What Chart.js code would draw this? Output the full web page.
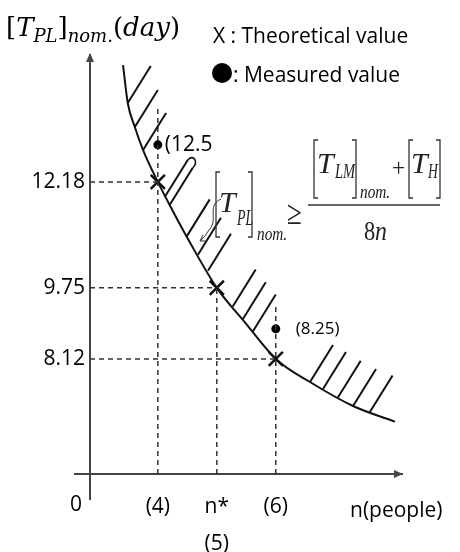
<!DOCTYPE html>
<html>
<head>
<meta charset="utf-8">
<script src="https://cdn.jsdelivr.net/npm/chart.js@4/dist/chart.umd.min.js"></script>
<style>
  body { margin: 0; background: #fff; }
  canvas { display: block; }
</style>
</head>
<body>
<canvas id="grafico" width="460" height="552"></canvas>
<script>
// ejes
var xTicks = [4, 5, 6];
var xTickLabels = ['(4)', ['n*', '(5)'], '(6)'];
var yTicks = [8.12, 9.75, 12.18];
var yTickLabels = ['8.12', '9.75', '12.18'];
var nMin = 2.85, nMax = 8.14, tMin = 5.48, tMax = 15.09;

// valores teoricos (X) y lineas guia
var theoN = [4, 5, 6];
var theoT = [12.18, 9.75, 8.12];
var guideTop = [13.9, 9.75, 9.36];

// valores medidos
var measN = [4, 6];
var measT = [13.03, 8.81];
var measLabels = ['(12.5', '(8.25)'];

// curva limite
var curveN = [3.41, 3.49, 3.61, 3.75, 4, 4.29, 4.54, 5, 5.47, 6, 6.58, 7.31, 8.02];
var curveT = [14.86, 13.99, 13.44, 12.91, 12.18, 11.42, 10.80, 9.75, 8.97, 8.12, 7.59, 7.04, 6.68];

// rayado (base de cada trazo sobre la curva)
var hatchN = [3.49, 3.61, 3.75, 4.12, 4.20, 4.49, 4.68, 4.85, 5.27, 5.44, 5.61, 6.58, 6.80, 7.05, 7.31, 7.59];
var hatchT = [13.99, 13.44, 12.91, 11.84, 11.65, 10.93, 10.51, 10.14, 9.32, 9.03, 8.75, 7.59, 7.43, 7.23, 7.04, 6.89];

var FONT = '"Open Sans", sans-serif';

function texto(c, s, x, y, font, sx) {
  sx = sx || 1;
  c.save();
  c.font = font;
  c.translate(x, y);
  c.scale(sx, 1);
  c.fillText(s, 0, 0);
  var w = c.measureText(s).width * sx;
  c.restore();
  return w;
}

function corchete(c, x, y1, y2, dir) {
  c.beginPath();
  c.moveTo(x + dir * 4, y1);
  c.lineTo(x, y1);
  c.lineTo(x, y2);
  c.lineTo(x + dir * 4, y2);
  c.stroke();
}

var decoraciones = {
  id: 'decoraciones',
  afterDraw: function (chart) {
    var c = chart.ctx, xs = chart.scales.x, ys = chart.scales.y, a = chart.chartArea;
    var i;
    c.save();

    // prolongacion de ejes y flechas
    c.strokeStyle = '#444';
    c.lineWidth = 2;
    c.beginPath();
    c.moveTo(a.left, a.bottom);
    c.lineTo(a.left, a.bottom + 26);
    c.moveTo(a.left - 16, a.bottom);
    c.lineTo(a.left, a.bottom);
    c.stroke();
    c.fillStyle = '#444';
    c.beginPath();
    c.moveTo(a.left, a.top - 2);
    c.lineTo(a.left - 4, a.top + 7);
    c.lineTo(a.left + 4, a.top + 7);
    c.closePath();
    c.fill();
    c.beginPath();
    c.moveTo(a.right + 1, a.bottom);
    c.lineTo(a.right - 8, a.bottom - 4);
    c.lineTo(a.right - 8, a.bottom + 4);
    c.closePath();
    c.fill();

    // rayado
    c.strokeStyle = '#111';
    c.lineWidth = 2;
    for (i = 0; i < hatchN.length; i++) {
      var px = xs.getPixelForValue(hatchN[i]), py = ys.getPixelForValue(hatchT[i]);
      c.beginPath();
      c.moveTo(px, py);
      c.lineTo(px + 23, py - 37);
      c.stroke();
    }
    // gancho entre los dos trazos junto a 12.18
    var h1x = xs.getPixelForValue(hatchN[3]) + 23, h1y = ys.getPixelForValue(hatchT[3]) - 37;
    var h2x = xs.getPixelForValue(hatchN[4]) + 23, h2y = ys.getPixelForValue(hatchT[4]) - 37;
    c.lineWidth = 1.6;
    c.beginPath();
    c.moveTo(h1x, h1y);
    c.bezierCurveTo(h1x + 6, h1y - 6, h2x + 6, h2y - 6, h2x, h2y);
    c.stroke();

    // flecha curva
    c.lineWidth = 1;
    c.strokeStyle = '#333';
    c.beginPath();
    c.moveTo(221, 199);
    c.bezierCurveTo(206, 206, 219, 220, 209, 230);
    c.quadraticCurveTo(205, 237, 200, 241);
    c.moveTo(200, 241);
    c.lineTo(207, 241);
    c.moveTo(200, 241);
    c.lineTo(203, 235);
    c.stroke();

    // etiquetas de valores medidos
    c.fillStyle = '#000';
    c.textAlign = 'left';
    c.textBaseline = 'middle';
    c.font = '21px ' + FONT;
    c.fillText(measLabels[0], xs.getPixelForValue(measN[0]) + 7, ys.getPixelForValue(measT[0]));
    c.font = '17px ' + FONT;
    c.fillText(measLabels[1], xs.getPixelForValue(measN[1]) + 20, ys.getPixelForValue(measT[1]));

    // origen y titulo eje x
    c.font = '21px ' + FONT;
    c.textBaseline = 'top';
    c.textAlign = 'center';
    c.fillText('0', a.left - 14, a.bottom + 21);
    c.textAlign = 'left';
    c.fillText('n(people)', 350, a.bottom + 27);

    // leyenda
    c.textBaseline = 'alphabetic';
    c.fillText('X : Theoretical value', 213, 43);
    c.beginPath();
    c.arc(222, 73, 10, 0, Math.PI * 2);
    c.fill();
    c.fillText(': Measured value', 233, 82);

    // titulo eje y
    var x = 6;
    x += texto(c, '[', x, 36, '26px "DejaVu Serif"');
    x += texto(c, 'T', x, 36, 'italic 26px "DejaVu Serif"');
    x += texto(c, 'PL', x, 42, 'italic 18px "DejaVu Serif"');
    x += texto(c, ']', x, 36, '26px "DejaVu Serif"');
    x += texto(c, 'nom.', x, 42, 'italic 18px "DejaVu Serif"');
    x += texto(c, '(', x, 36, '26px "DejaVu Serif"');
    x += texto(c, 'day', x, 36, 'italic 26px "DejaVu Serif"');
    texto(c, ')', x, 36, '26px "DejaVu Serif"');

    // formula
    c.fillStyle = '#222';
    c.strokeStyle = '#333';
    c.lineWidth = 1.3;
    var serif = '"Liberation Serif", serif';
    corchete(c, 216, 172, 237, 1);
    texto(c, 'T', 219, 212, 'italic 30px ' + serif);
    texto(c, 'PL', 237, 225, 'italic 24px ' + serif, 0.58);
    corchete(c, 252, 172, 237, -1);
    texto(c, 'nom.', 257, 240, 'italic 18px ' + serif, 0.85);
    texto(c, '\u2265', 287, 224, '34px ' + serif, 0.8);
    c.lineWidth = 1.6;
    c.beginPath();
    c.moveTo(308, 205);
    c.lineTo(440, 205);
    c.stroke();
    c.lineWidth = 1.3;
    corchete(c, 314, 140, 198, 1);
    texto(c, 'T', 317, 173, 'italic 30px ' + serif);
    texto(c, 'LM', 335, 178, 'italic 22px ' + serif, 0.66);
    corchete(c, 356, 140, 198, -1);
    texto(c, 'nom.', 360, 198, 'italic 18px ' + serif, 0.85);
    texto(c, '+', 392, 176, '26px ' + serif, 0.9);
    corchete(c, 409, 140, 198, 1);
    texto(c, 'T', 411, 173, 'italic 30px ' + serif);
    texto(c, 'H', 428, 178, 'italic 22px ' + serif, 0.62);
    corchete(c, 440, 140, 198, -1);
    texto(c, '8', 364, 240, '28px ' + serif, 0.8);
    texto(c, 'n', 375, 240, 'italic 28px ' + serif, 0.85);

    c.restore();
  }
};

var guia = { borderColor: '#333', borderWidth: 1.5, borderDash: [5, 4], pointRadius: 0, showLine: true, fill: false };
var datasets = [];
theoN.forEach(function (n, i) {
  datasets.push(Object.assign({ data: [{ x: nMin, y: theoT[i] }, { x: n, y: theoT[i] }] }, guia));
  datasets.push(Object.assign({ data: [{ x: n, y: tMin }, { x: n, y: guideTop[i] }] }, guia));
});
datasets.push({
  data: curveN.map(function (n, i) { return { x: n, y: curveT[i] }; }),
  showLine: true, borderColor: '#111', borderWidth: 2, pointRadius: 0,
  cubicInterpolationMode: 'monotone'
});
datasets.push({
  data: theoN.map(function (n, i) { return { x: n, y: theoT[i] }; }),
  showLine: false, pointStyle: 'crossRot', pointRadius: 10, borderWidth: 2.5, borderColor: '#111'
});
datasets.push({
  data: measN.map(function (n, i) { return { x: n, y: measT[i] }; }),
  showLine: false, pointStyle: 'circle', pointRadius: 4.5, backgroundColor: '#000', borderColor: '#000', borderWidth: 0
});

var ctx = document.getElementById('grafico').getContext('2d');
var grafico = new Chart(ctx, {
  type: 'scatter',
  data: { datasets: datasets },
  options: {
    responsive: false,
    animation: false,
    layout: { padding: { top: 55, right: 58, bottom: 0, left: 0 } },
    plugins: { legend: { display: false }, tooltip: { enabled: false } },
    scales: {
      x: {
        type: 'linear', min: nMin, max: nMax,
        afterBuildTicks: function (s) { s.ticks = xTicks.map(function (v) { return { value: v }; }); },
        afterFit: function (s) { s.height = 78; },
        grid: { display: false, drawTicks: false },
        border: { color: '#444', width: 2 },
        ticks: {
          padding: 15, color: '#000', maxRotation: 0, autoSkip: false,
          font: { family: FONT, size: 21, lineHeight: 1.75 },
          callback: function (v, i) { return xTickLabels[i]; }
        }
      },
      y: {
        type: 'linear', min: tMin, max: tMax,
        afterBuildTicks: function (s) { s.ticks = yTicks.map(function (v) { return { value: v }; }); },
        afterFit: function (s) { s.width = 90; },
        grid: { display: false, drawTicks: false },
        border: { color: '#444', width: 2 },
        ticks: {
          padding: 5, color: '#000', autoSkip: false,
          font: { family: FONT, size: 21 },
          callback: function (v, i) { return yTickLabels[i]; }
        }
      }
    }
  },
  plugins: [decoraciones]
});
</script>
</body>
</html>
